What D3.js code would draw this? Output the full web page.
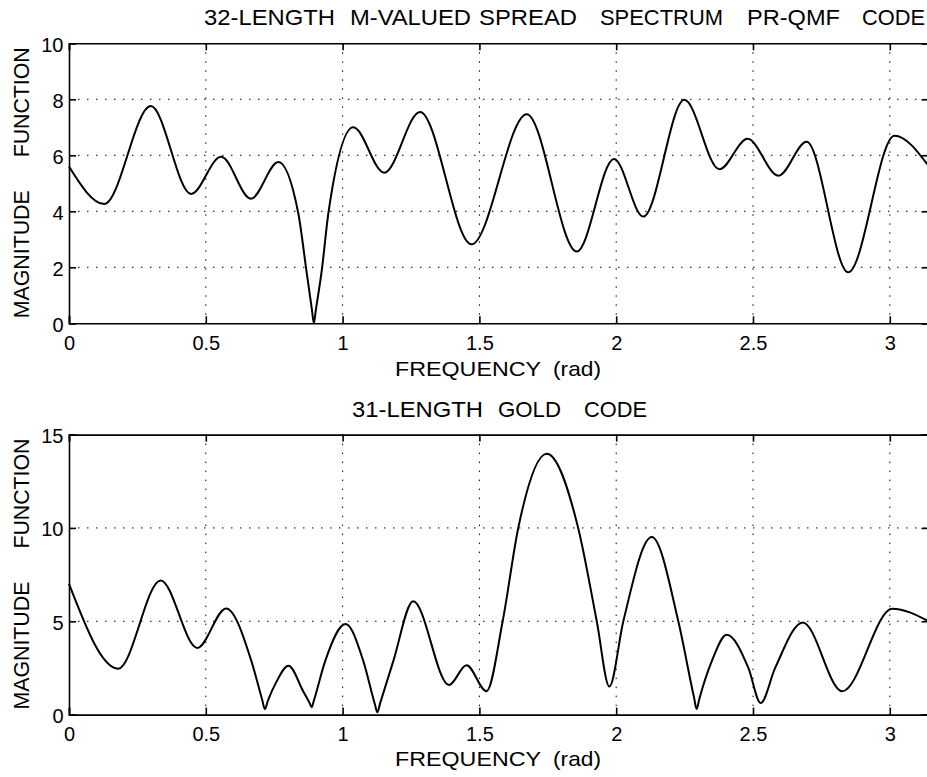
<!DOCTYPE html>
<html>
<head>
<meta charset="utf-8">
<script src="https://cdn.jsdelivr.net/npm/d3@7"></script>
<style>
  body { margin: 0; background: #fff; }
  text { font-family: 'Liberation Sans', Arial, sans-serif; fill: #000; }
</style>
</head>
<body>
<div id="myPlot"></div>
<script>
// top panel: 32-length M-valued spread spectrum PR-QMF code
const topFreq = [0, 0.129, 0.299, 0.446, 0.556, 0.665, 0.765, 0.838, 0.869, 0.888, 0.895, 0.902, 0.924, 0.948,
  1.039, 1.152, 1.283, 1.471, 1.673, 1.856, 1.992, 2.099, 2.249, 2.377, 2.48, 2.593, 2.696, 2.848, 3.017, 3.1416];
const topMag = [5.6, 4.26, 7.76, 4.62, 5.95, 4.45, 5.76, 3.93, 1.79, 0.48, 0, 0.46, 1.9, 3.93,
  7.0, 5.38, 7.55, 2.82, 7.47, 2.56, 5.87, 3.81, 7.98, 5.5, 6.59, 5.27, 6.48, 1.82, 6.7, 5.62];

// bottom panel: 31-length gold code
const botFreq = [0, 0.18, 0.335, 0.469, 0.574, 0.667, 0.706, 0.716, 0.727, 0.759, 0.802, 0.856, 0.880, 0.887, 0.895, 0.936,
  1.011, 1.076, 1.118, 1.127, 1.137, 1.185, 1.258, 1.389, 1.453, 1.526, 1.585, 1.642, 1.746, 1.861, 1.929, 1.975,
  2.026, 2.13, 2.227, 2.284, 2.294, 2.304, 2.349, 2.404, 2.483, 2.528, 2.581, 2.682, 2.826, 3.009, 3.1416];
const botMag = [7.0, 2.46, 7.19, 3.57, 5.69, 2.85, 0.8, 0.3, 0.75, 1.78, 2.62, 1.25, 0.6, 0.39, 0.75, 2.85,
  4.85, 2.85, 0.55, 0.12, 0.6, 2.85, 6.07, 1.59, 2.64, 1.25, 5.0, 10.0, 13.98, 10.0, 5.0, 1.5,
  5.0, 9.51, 5.0, 0.95, 0.3, 0.85, 2.85, 4.28, 2.5, 0.62, 2.5, 4.94, 1.25, 5.67, 5.0];

const xTicks = [0, 0.5, 1, 1.5, 2, 2.5, 3];
const topYTicks = [0, 2, 4, 6, 8, 10];
const botYTicks = [0, 5, 10, 15];

const topTitle = ['32-LENGTH', 'M-VALUED', 'SPREAD', 'SPECTRUM', 'PR-QMF', 'CODE'];
const botTitle = ['31-LENGTH', 'GOLD', 'CODE'];
const xLabel = ['FREQUENCY', '(rad)'];
const yLabel = ['MAGNITUDE', 'FUNCTION'];

const width = 927, height = 777;
const svg = d3.select('#myPlot')
  .append('svg')
    .attr('width', width)
    .attr('height', height);

const left = 69;
const right = 69 + Math.PI * 273.6;
const font = 'Liberation Sans, Arial, sans-serif';

// words are laid out one by one, the scan has wide gaps between them
function words(g, list, xs, lens, y, size) {
  g.selectAll(null)
    .data(list)
    .enter().append('text')
      .attr('x', (d, i) => xs[i])
      .attr('y', y)
      .attr('font-size', size)
      .attr('textLength', (d, i) => lens[i])
      .attr('lengthAdjust', 'spacingAndGlyphs')
      .text(d => d);
}

function drawPanel(opts) {
  const x = d3.scaleLinear().domain([0, Math.PI]).range([left, right]);
  const y = d3.scaleLinear().domain([0, opts.yMax]).range([opts.bottom, opts.top]);
  const g = svg.append('g');

  // dotted grid
  g.selectAll('line.vgrid')
    .data(xTicks.filter(t => t > 0))
    .enter().append('line')
      .attr('x1', d => x(d)).attr('x2', d => x(d))
      .attr('y1', opts.top).attr('y2', opts.bottom)
      .attr('stroke', '#000').attr('stroke-width', 1)
      .attr('stroke-dasharray', '1.5,7.5');
  g.selectAll('line.hgrid')
    .data(opts.yTicks.filter(t => t > 0 && t < opts.yMax))
    .enter().append('line')
      .attr('x1', left).attr('x2', right)
      .attr('y1', d => y(d)).attr('y2', d => y(d))
      .attr('stroke', '#000').attr('stroke-width', 1)
      .attr('stroke-dasharray', '1.5,7.5');

  // axes with inward ticks, matlab style box
  g.append('g')
    .attr('transform', 'translate(0,' + opts.bottom + ')')
    .call(d3.axisBottom(x).tickValues(xTicks).tickSize(-7).tickFormat(d3.format('')).tickPadding(12.3))
    .call(a => a.select('.domain').attr('stroke-width', 1.6))
    .call(a => a.selectAll('line').attr('stroke-width', 1.6))
    .call(a => a.selectAll('text').attr('font-size', 20).attr('font-family', font));
  g.append('g')
    .attr('transform', 'translate(0,' + opts.top + ')')
    .call(d3.axisTop(x).tickValues(xTicks).tickSize(-7).tickFormat(''))
    .call(a => a.select('.domain').attr('stroke-width', 1.6))
    .call(a => a.selectAll('line').attr('stroke-width', 1.6));
  g.append('g')
    .attr('transform', 'translate(' + left + ',0)')
    .call(d3.axisLeft(y).tickValues(opts.yTicks).tickSize(-7).tickPadding(5.5))
    .call(a => a.select('.domain').attr('stroke-width', 1.6))
    .call(a => a.selectAll('line').attr('stroke-width', 1.6))
    .call(a => a.selectAll('text').attr('font-size', 20).attr('dy', '0.4em').attr('font-family', font));
  g.append('g')
    .attr('transform', 'translate(' + right + ',0)')
    .call(d3.axisRight(y).tickValues(opts.yTicks).tickSize(-7).tickFormat(''))
    .call(a => a.select('.domain').attr('stroke-width', 1.6))
    .call(a => a.selectAll('line').attr('stroke-width', 1.6));

  // the magnitude curve
  const line = d3.line()
    .x(d => x(d[0]))
    .y(d => y(d[1]))
    .curve(d3.curveMonotoneX);
  g.append('path')
    .datum(d3.zip(opts.freq, opts.mag))
    .attr('d', line)
    .attr('fill', 'none')
    .attr('stroke', '#000')
    .attr('stroke-width', 2);

  // title and x label
  words(g, opts.title, opts.titleX, opts.titleLen, opts.titleY, 22);
  words(g, xLabel, [395, 553], [146, 48], opts.xLabelY, 21);

  // y label, rotated, read bottom to top
  const yl = g.append('g')
    .attr('transform', 'translate(28.5,' + opts.top + ')rotate(-90)');
  words(yl, yLabel, [-275, -114], [128, 110], 0, 22);
}

drawPanel({
  top: 43.3, bottom: 323.3, yMax: 10, yTicks: topYTicks,
  freq: topFreq, mag: topMag,
  title: topTitle, titleX: [204, 350, 479, 600, 747, 862], titleLen: [131, 121, 98, 123, 93, 63], titleY: 25,
  xLabelY: 375.5
});
drawPanel({
  top: 434.6, bottom: 714.6, yMax: 15, yTicks: botYTicks,
  freq: botFreq, mag: botMag,
  title: botTitle, titleX: [352, 498, 584], titleLen: [131, 63, 63], titleY: 417,
  xLabelY: 765.5
});
</script>
</body>
</html>
